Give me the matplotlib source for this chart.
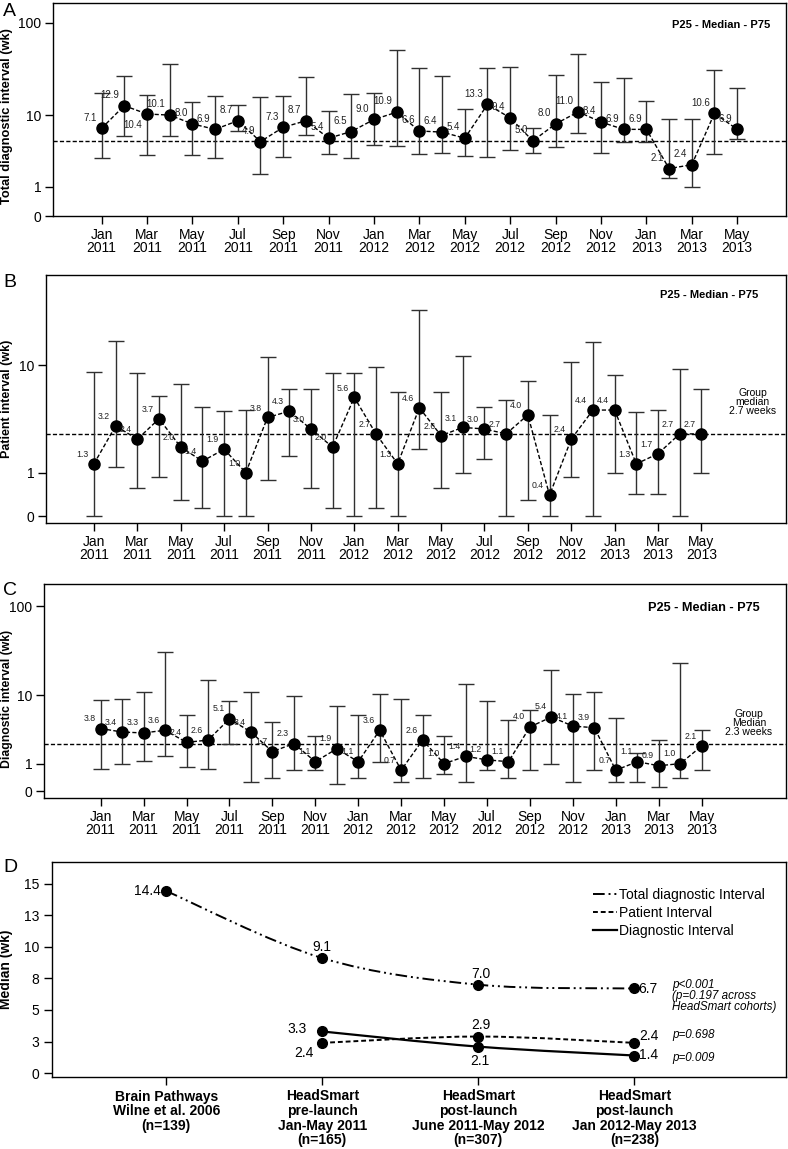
import numpy as np
import matplotlib
matplotlib.use('Agg')
import matplotlib.pyplot as plt
from matplotlib.path import Path
from matplotlib.patches import PathPatch
from matplotlib.lines import Line2D
from matplotlib.ticker import NullLocator

plt.rcParams['font.family'] = ['Liberation Sans', 'DejaVu Sans']

# months Jan 2011 - May 2013 (29 points), ticks every other month
tick_labels = ['Jan\n2011', 'Mar\n2011', 'May\n2011', 'Jul\n2011', 'Sep\n2011', 'Nov\n2011',
               'Jan\n2012', 'Mar\n2012', 'May\n2012', 'Jul\n2012', 'Sep\n2012', 'Nov\n2012',
               'Jan\n2013', 'Mar\n2013', 'May\n2013']

# A - total diagnostic interval (weeks)
total_med = [7.1, 12.9, 10.4, 10.1, 8.0, 6.9, 8.7, 4.9, 7.3, 8.7, 5.4, 6.5, 9.0, 10.9, 6.6,
             6.4, 5.4, 13.3, 9.4, 5.0, 8.0, 11.0, 8.4, 6.9, 6.9, 2.1, 2.4, 10.6, 6.9]
total_p25 = [3.0, 5.8, 3.3, 5.8, 3.3, 3.0, 6.6, 1.7, 3.1, 5.9, 3.4, 3.0, 4.4, 4.3, 3.4,
             3.5, 3.2, 3.1, 3.8, 3.5, 4.2, 6.3, 3.5, 4.9, 4.9, 1.5, 1.0, 3.4, 5.3]
total_p75 = [17.6, 26.9, 17.0, 36.2, 14.3, 16.5, 13.0, 16.2, 16.6, 26.5, 11.1, 17.2, 18.0, 52.0, 32.8,
             26.9, 11.8, 32.8, 34.2, 7.2, 27.8, 46.7, 23.2, 26.1, 14.4, 9.1, 9.2, 31.5, 20.0]
total_ref = 5.0

# B - patient interval
patient_med = [1.3, 3.2, 2.4, 3.7, 2.0, 1.4, 1.9, 1.0, 3.8, 4.3, 3.0, 2.0, 5.6, 2.7, 1.3,
               4.6, 2.6, 3.1, 3.0, 2.7, 4.0, 0.4, 2.4, 4.4, 4.4, 1.3, 1.7, 2.7, 2.7]
patient_p25 = [0, 1.2, 0.57, 0.87, 0.3, 0.15, 0, 0, 0.79, 1.6, 0.57, 0.15, 0, 0.15, 0,
               1.9, 0.57, 1.0, 1.5, 0, 0.3, 0, 0.87, 0, 1.0, 0.43, 0.43, 0, 1.0]
patient_p75 = [8.9, 15.1, 8.7, 5.7, 7.2, 4.7, 4.3, 4.4, 11.6, 6.6, 6.6, 8.7, 8.7, 9.7, 6.2,
               25.6, 6.2, 11.7, 4.7, 5.3, 7.6, 4.0, 10.6, 15.0, 8.4, 4.2, 4.4, 9.4, 6.5]
patient_ref = 2.7

# C - diagnostic interval
diag_med = [3.8, 3.4, 3.3, 3.6, 2.4, 2.6, 5.1, 3.4, 1.7, 2.3, 1.1, 1.9, 1.1, 3.6, 0.7,
            2.6, 1.0, 1.4, 1.2, 1.1, 4.0, 5.4, 4.1, 3.9, 0.7, 1.1, 0.9, 1.0, 2.1]
diag_p25 = [0.77, 1.0, 1.15, 1.44, 0.84, 0.77, 2.3, 0.28, 0.41, 0.71, 0.72, 0.2, 0.41, 1.08, 0.28,
            0.41, 0.56, 0.28, 0.72, 0.41, 0.72, 0.99, 0.28, 0.72, 0.28, 0.28, 0.13, 0.41, 0.72]
diag_p75 = [8.7, 8.9, 10.9, 31.6, 5.8, 15.1, 8.5, 10.9, 4.6, 9.8, 3.0, 7.5, 5.7, 10.3, 8.9,
            5.8, 3.0, 13.7, 8.6, 5.0, 6.6, 19.6, 10.3, 10.8, 5.3, 1.6, 2.6, 23.6, 3.6]
diag_ref = 2.3

# D - medians per cohort
cohorts = ['Brain Pathways\nWilne et al. 2006\n(n=139)',
           'HeadSmart\npre-launch\nJan-May 2011\n(n=165)',
           'HeadSmart\npost-launch\nJune 2011-May 2012\n(n=307)',
           'HeadSmart\npost-launch\nJan 2012-May 2013\n(n=238)']
total_cohort = [14.4, 9.1, 7.0, 6.7]
patient_cohort = [2.4, 2.9, 2.4]     # HeadSmart cohorts only
diag_cohort = [3.3, 2.1, 1.4]
p_total = ['p<0.001', '(p=0.197 across', 'HeadSmart cohorts)']
p_patient = 'p=0.698'
p_diag = 'p=0.009'

W, H = 788, 1149
fig = plt.figure(figsize=(W / 100, H / 100), dpi=100)


def box(l, t, r, b):
    return [l / W, 1 - b / H, (r - l) / W, (b - t) / H]


def fwd(y):
    return np.log10(np.asarray(y, dtype=float) + 1)


def inv(y):
    return 10 ** np.asarray(y, dtype=float) - 1


def month_panel(rect, med, p25, p75, ref, xlim, ylim, yticks, ylabel, yl_fs, yl_y, fs, off,
                below=(), cap=5.5):
    ax = fig.add_axes(box(*rect))
    ax.set_yscale('function', functions=(fwd, inv))
    x = np.arange(len(med))
    med = np.array(med)
    lo = med - np.array(p25)
    hi = np.array(p75) - med
    ax.errorbar(x, med, yerr=[lo, hi], fmt='none', ecolor='#303030', elinewidth=1,
                capsize=cap, capthick=1, zorder=2)
    ax.axhline(ref, color='black', lw=1, ls=(0, (3, 1.6)), zorder=1)
    ax.plot(x, med, color='black', lw=1, ls=(0, (3, 1.6)), zorder=3)
    ax.plot(x, med, 'o', color='black', ms=8, zorder=4)
    for i, v in enumerate(med):
        dy = -off[1] if i in below else off[1]
        ax.annotate(f'{v:.1f}', (i, v), xytext=(off[0], dy), textcoords='offset points',
                    ha='right', va='center', fontsize=fs, color='#222222', zorder=5)
    ax.set_xlim(*xlim)
    ax.set_ylim(*ylim)
    ax.set_xticks(x[::2])
    ax.set_xticklabels(tick_labels, linespacing=0.95)
    ax.set_yticks(yticks)
    ax.set_yticklabels([str(t) for t in yticks])
    ax.yaxis.set_minor_locator(NullLocator())
    ax.tick_params(direction='out', length=6, width=1, labelsize=10, pad=2.5)
    for s in ax.spines.values():
        s.set_linewidth(1)
    ax.set_ylabel(ylabel, fontsize=yl_fs, fontweight='bold')
    ax.yaxis.set_label_coords((13 - rect[0]) / (rect[2] - rect[0]), yl_y)
    return ax


axA = month_panel((53, 3, 786, 216), total_med, total_p25, total_p75, total_ref,
                  (-2.14, 30.15), (0, 160), [0, 1, 10, 100],
                  'Total diagnostic interval (wk)', 9.3, 0.467, 7, (-3.4, 7.7),
                  below=(2,), cap=6)
axA.text(0.978, 0.897, 'P25 - Median - P75', transform=axA.transAxes, ha='right',
         va='center', fontsize=8, fontweight='bold')

axB = month_panel((46, 275, 786, 523), patient_med, patient_p25, patient_p75, patient_ref,
                  (-2.21, 31.9), (-0.1, 45), [0, 1, 10],
                  'Patient interval (wk)', 9, 0.5, 6.3, (-4.1, 6.7))
axB.text(0.962, 0.919, 'P25 - Median - P75', transform=axB.transAxes, ha='right',
         va='center', fontsize=8, fontweight='bold')
axB.text(0.955, 0.488, 'Group\nmedian\n2.7 weeks', transform=axB.transAxes, ha='center',
         va='center', fontsize=7.5, linespacing=0.9)

axC = month_panel((44, 584, 786, 798), diag_med, diag_p25, diag_p75, diag_ref,
                  (-2.64, 31.93), (-0.15, 175), [0, 1, 10, 100],
                  'Diagnostic interval (wk)', 8.8, 0.463, 6.3, (-3.6, 7.2))
axC.text(0.965, 0.889, 'P25 - Median - P75', transform=axC.transAxes, ha='right',
         va='center', fontsize=9.2, fontweight='bold')
axC.text(0.950, 0.35, 'Group\nMedian\n2.3 weeks', transform=axC.transAxes, ha='center',
         va='center', fontsize=7.5, linespacing=0.9)


def smooth_path(xs, ys, t=1 / 6):
    # Catmull-Rom style bezier through the points
    pts = np.column_stack([xs, ys]).astype(float)
    verts = [pts[0]]
    codes = [Path.MOVETO]
    for i in range(len(pts) - 1):
        p0 = pts[i - 1] if i > 0 else pts[i]
        p1, p2 = pts[i], pts[i + 1]
        p3 = pts[i + 2] if i + 2 < len(pts) else p2
        verts += [p1 + (p2 - p0) * t, p2 - (p3 - p1) * t, p2]
        codes += [Path.CURVE4] * 3
    return Path(verts, codes)


rect_d = (52, 862, 786, 1077)
axD = fig.add_axes(box(*rect_d))
cx = np.arange(len(cohorts))
hx = cx[1:]
ls_total = (0, (6, 2, 1, 2, 1, 2))
ls_patient = (0, (2.5, 1.5))
axD.add_patch(PathPatch(smooth_path(cx, total_cohort), fill=False, lw=1.4, ls=ls_total,
                        edgecolor='black'))
axD.add_patch(PathPatch(smooth_path(hx, patient_cohort), fill=False, lw=1.4, ls=ls_patient,
                        edgecolor='black'))
axD.add_patch(PathPatch(smooth_path(hx, diag_cohort), fill=False, lw=1.6, ls='-',
                        edgecolor='black'))
axD.plot(cx, total_cohort, 'o', color='black', ms=7)
axD.plot(hx, patient_cohort, 'o', color='black', ms=7)
axD.plot(hx, diag_cohort, 'o', color='black', ms=7)

# label offsets (points) and alignment for each value
total_off = [((-4.3, 0), 'right'), ((0, 8), 'center'), ((1.5, 8), 'center'), ((3, -0.5), 'left')]
patient_off = [((-6.5, -7.2), 'right'), ((2, 8.4), 'center'), ((3.6, 5), 'left')]
diag_off = [((-11.2, 1.5), 'right'), ((1, -10), 'center'), ((3.6, 0.5), 'left')]
for xs, vals, offs in [(cx, total_cohort, total_off), (hx, patient_cohort, patient_off),
                       (hx, diag_cohort, diag_off)]:
    for xv, v, (o, ha) in zip(xs, vals, offs):
        axD.annotate(f'{v:.1f}', (xv, v), xytext=o, textcoords='offset points', ha=ha,
                     va='center', fontsize=10)

for k, line in enumerate(p_total):
    axD.annotate(line, (cx[-1], total_cohort[-1]), xytext=(27, 2.7 - 8.2 * k),
                 textcoords='offset points', ha='left', va='center', fontsize=8.4,
                 style='italic')
axD.annotate(p_patient, (hx[-1], patient_cohort[-1]), xytext=(27, 5.8),
             textcoords='offset points', ha='left', va='center', fontsize=8.4, style='italic')
axD.annotate(p_diag, (hx[-1], diag_cohort[-1]), xytext=(27, -1.7),
             textcoords='offset points', ha='left', va='center', fontsize=8.4, style='italic')

handles = [Line2D([], [], color='black', lw=1.4, ls=ls_total),
           Line2D([], [], color='black', lw=1.4, ls=ls_patient),
           Line2D([], [], color='black', lw=1.6, ls='-')]
axD.legend(handles, ['Total diagnostic Interval', 'Patient Interval', 'Diagnostic Interval'],
           loc='upper left', bbox_to_anchor=(0.737, 0.88), frameon=False, fontsize=10,
           handlelength=1.7, handletextpad=0.2, labelspacing=0.3, borderpad=0,
           borderaxespad=0)

axD.set_xlim(-0.733, 3.972)
axD.set_ylim(-0.3, 16.7)
yt = [0, 2.5, 5, 7.5, 10, 12.5, 15]
axD.set_yticks(yt)
axD.set_yticklabels(['0', '3', '5', '8', '10', '13', '15'])
axD.set_xticks(cx)
axD.set_xticklabels(cohorts, fontsize=10, fontweight='bold', linespacing=1.05)
axD.tick_params(direction='out', length=6, width=1, labelsize=10, pad=3)
for s in axD.spines.values():
    s.set_linewidth(1)
axD.set_ylabel('Median (wk)', fontsize=10, fontweight='bold')
axD.yaxis.set_label_coords((13 - rect_d[0]) / (rect_d[2] - rect_d[0]), 0.5)

# panel letters
for letter, ty in [('A', 3), ('B', 274), ('C', 582), ('D', 859)]:
    fig.text(3 / W, 1 - ty / H, letter, fontsize=14, va='top', ha='left')

fig.savefig('out.png', dpi=100)
